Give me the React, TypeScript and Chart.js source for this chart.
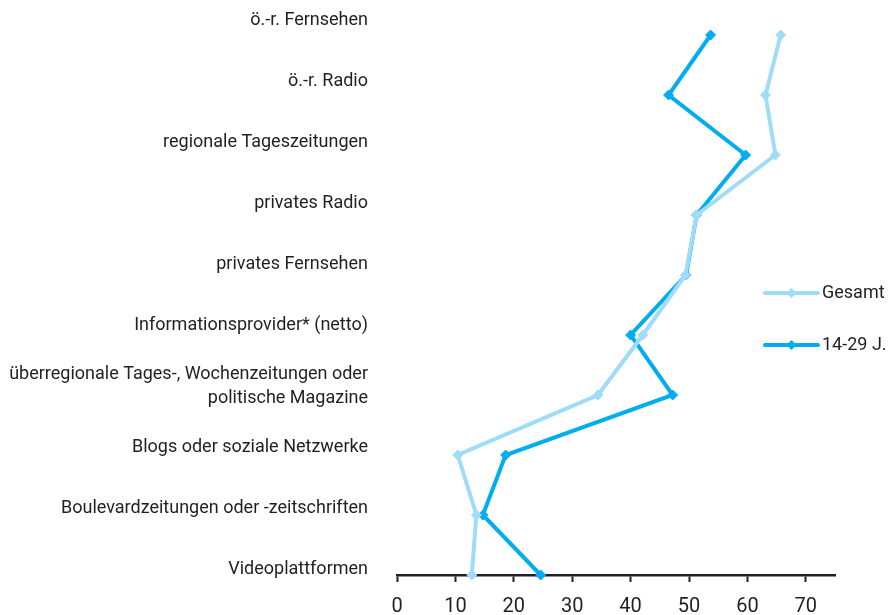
import React, { useEffect, useRef } from "react";
import { Chart, registerables } from "chart.js";

Chart.register(...registerables);

const categories: (string | string[])[] = [
  "ö.-r. Fernsehen",
  "ö.-r. Radio",
  "regionale Tageszeitungen",
  "privates Radio",
  "privates Fernsehen",
  "Informationsprovider* (netto)",
  ["überregionale Tages-, Wochenzeitungen oder", "politische Magazine"],
  "Blogs oder soziale Netzwerke",
  "Boulevardzeitungen oder -zeitschriften",
  "Videoplattformen",
];

const seriesLabels = ["Gesamt", "14-29 J."];
const gesamt = [65.7, 63.1, 64.8, 51.3, 49.4, 42.1, 34.4, 10.4, 13.6, 12.8];
const jung = [53.7, 46.5, 59.7, 51.3, 49.5, 40.0, 47.2, 18.6, 14.7, 24.6];
const xTicks = [0, 10, 20, 30, 40, 50, 60, 70];

const LIGHT = "#9fdcf7";
const DARK = "#00aeef";
const TEXT = "#231f20";
const FONT = 'Roboto, "Liberation Sans", Arial, sans-serif';

const legendPlugin = {
  id: "customLegend",
  afterDraw(chart: any) {
    const ctx = chart.ctx;
    const x0 = 765;
    const lineLen = 53;
    const y0 = 293;
    const gap = 52;
    ctx.save();
    chart.data.datasets.forEach((ds: any, i: number) => {
      const y = y0 + i * gap;
      ctx.strokeStyle = ds.borderColor;
      ctx.lineWidth = 4;
      ctx.lineCap = "round";
      ctx.beginPath();
      ctx.moveTo(x0, y);
      ctx.lineTo(x0 + lineLen, y);
      ctx.stroke();
      const cx = x0 + lineLen / 2;
      ctx.fillStyle = ds.borderColor;
      ctx.beginPath();
      ctx.moveTo(cx, y - 5);
      ctx.lineTo(cx + 5, y);
      ctx.lineTo(cx, y + 5);
      ctx.lineTo(cx - 5, y);
      ctx.closePath();
      ctx.fill();
      ctx.fillStyle = TEXT;
      ctx.font = `18px ${FONT}`;
      ctx.textAlign = "left";
      ctx.textBaseline = "middle";
      ctx.fillText(ds.label, x0 + lineLen + 4, y);
    });
    ctx.restore();
  },
};

export default function App() {
  const ref = useRef<HTMLCanvasElement | null>(null);
  useEffect(() => {
    if (!ref.current) return;
    Chart.defaults.font.family = FONT;
    Chart.defaults.color = TEXT;
    const chart = new Chart(ref.current, {
      type: "line",
      data: {
        labels: categories as any,
        datasets: [
          {
            label: seriesLabels[0],
            data: gesamt,
            borderColor: LIGHT,
            backgroundColor: LIGHT,
            borderWidth: 4,
            pointStyle: "rectRot",
            pointRadius: 5,
            pointBorderWidth: 1,
            pointBackgroundColor: LIGHT,
            pointBorderColor: LIGHT,
            clip: false as any,
            yAxisID: "y",
          },
          {
            label: seriesLabels[1],
            data: jung,
            borderColor: DARK,
            backgroundColor: DARK,
            borderWidth: 4,
            pointStyle: "rectRot",
            pointRadius: 5,
            pointBorderWidth: 1,
            pointBackgroundColor: DARK,
            pointBorderColor: DARK,
            clip: false as any,
            yAxisID: "y",
          },
        ],
      },
      options: {
        indexAxis: "y",
        animation: false,
        responsive: false,
        maintainAspectRatio: false,
        devicePixelRatio: 1,
        layout: { padding: { top: 35, right: 55, bottom: 0, left: 0 } },
        plugins: { legend: { display: false }, tooltip: { enabled: false } },
        scales: {
          x: {
            type: "linear",
            position: "bottom",
            min: 0,
            max: 75,
            afterBuildTicks: (s: any) => {
              s.ticks = xTicks.map((v) => ({ value: v }));
            },
            afterFit: (s: any) => {
              s.height = 40;
              s.paddingLeft = 0;
              s.paddingRight = 0;
              s.paddingTop = 0;
              s.paddingBottom = 0;
            },
            ticks: {
              autoSkip: false,
              padding: 13,
              color: TEXT,
              font: { size: 20, family: FONT },
            },
            grid: {
              display: true,
              drawOnChartArea: false,
              drawTicks: true,
              tickLength: 7,
              tickWidth: 2,
              tickColor: TEXT,
            },
            border: { display: true, color: TEXT, width: 2.5 },
          },
          y: {
            type: "category",
            display: false,
            offset: false,
          },
          yl: {
            type: "linear",
            position: "left",
            min: 0.23,
            max: 9.097,
            reverse: true,
            afterBuildTicks: (s: any) => {
              s.ticks = categories.map((_, i) => ({ value: i }));
            },
            afterFit: (s: any) => {
              s.width = 397;
              s.paddingLeft = 0;
              s.paddingRight = 0;
              s.paddingTop = 0;
              s.paddingBottom = 0;
            },
            ticks: {
              autoSkip: false,
              padding: 29,
              color: TEXT,
              font: { size: 18, family: FONT, lineHeight: 1.3 },
              callback: (v: any) => categories[v as number],
            },
            grid: { display: false, drawTicks: false },
            border: { display: false },
          },
        } as any,
      },
      plugins: [legendPlugin],
    });
    return () => chart.destroy();
  }, []);

  return (
    <div style={{ position: "absolute", left: 0, top: 0, width: 890, height: 615 }}>
      <canvas ref={ref} width={890} height={615} style={{ display: "block" }} />
    </div>
  );
}
